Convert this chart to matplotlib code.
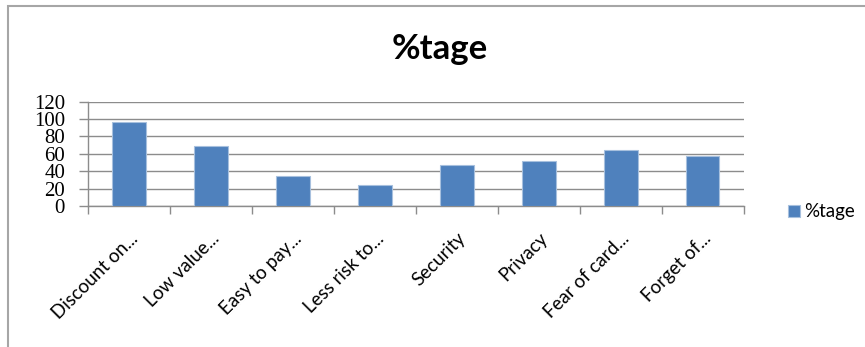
import numpy as np
import matplotlib.pyplot as plt
from matplotlib.patches import Rectangle

categories = ['Discount on...', 'Low value...', 'Easy to pay...', 'Less risk to...',
              'Security', 'Privacy', 'Fear of card...', 'Forget of...']
values = [97, 69, 35, 24, 47, 52, 64, 58]
series_name = '%tage'
yticks = [0, 20, 40, 60, 80, 100, 120]

fig = plt.figure(figsize=(8.65, 3.47), dpi=100)
ax = fig.add_axes([0.1017, 0.406, 0.758, 0.301])

x = np.arange(len(categories))
ax.bar(x, values, width=0.41, color='#4F81BD', edgecolor='#A7C0DE', linewidth=0.8,
       label=series_name, zorder=3)

ax.set_xlim(-0.5, len(categories) - 0.5)
ax.set_ylim(0, 120)
ax.set_yticks(yticks)
ax.set_yticklabels([str(v) for v in yticks], family='Liberation Serif', fontsize=15)
ax.yaxis.grid(True, color='#8C8C8C', linewidth=1.0, zorder=0)

# labels at centres, tick marks at boundaries
ax.set_xticks(x)
ax.set_xticklabels(categories, rotation=45, ha='right', rotation_mode='anchor',
                   family='Lato', fontsize=13.5)
ax.set_xticks(np.arange(len(categories) + 1) - 0.5, minor=True)
ax.tick_params(axis='x', which='major', length=0, pad=17)
ax.tick_params(axis='x', which='minor', length=6, color='#8C8C8C', width=1)
ax.tick_params(axis='y', length=6.5, color='#8C8C8C', width=1, pad=10)

for s in ['top', 'right']:
    ax.spines[s].set_visible(False)
for s in ['left', 'bottom']:
    ax.spines[s].set_color('#8C8C8C')
    ax.spines[s].set_linewidth(1)

fig.text(0.508, 0.86, series_name, ha='center', va='center', family='Lato',
         fontweight='bold', fontsize=25)

ax.legend(loc='center left', bbox_to_anchor=(0.892, 0.39), bbox_transform=fig.transFigure,
          frameon=False, prop={'family': 'Lato', 'size': 13.5},
          handlelength=0.6, handleheight=0.6, handletextpad=0.25)

# outer chart border
fig.patches.append(Rectangle((8 / 865, -0.1), 1.2, 1 - 6 / 347 + 0.1, transform=fig.transFigure,
                             fill=False, edgecolor='#A6A6A6', linewidth=1.5))

fig.savefig('out.png', dpi=100)
